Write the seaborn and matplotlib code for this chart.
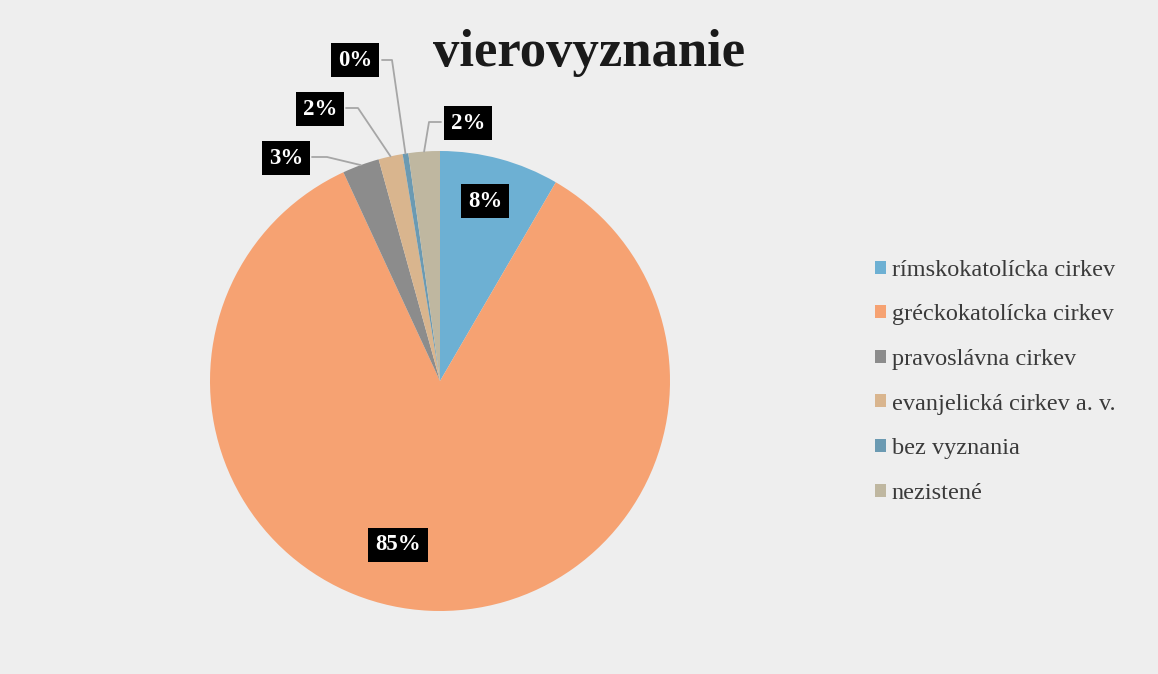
import numpy as np
import matplotlib
matplotlib.use("Agg")
import matplotlib.pyplot as plt
import seaborn as sns

categories = ["rímskokatolícka cirkev", "gréckokatolícka cirkev", "pravoslávna cirkev",
              "evanjelická cirkev a. v.", "bez vyznania", "nezistené"]
values = [8.4, 84.7, 2.6, 1.7, 0.4, 2.2]
labels = ["8%", "85%", "3%", "2%", "0%", "2%"]
colors = ["#6db0d3", "#f6a272", "#8c8c8c", "#d9b58e", "#6b9ab2", "#bfb7a0"]
title = "vierovyznanie"

sns.set_theme(style="white")
plt.rcParams['font.family'] = ['Liberation Serif', 'DejaVu Serif']

W, H = 1158, 674
fig = plt.figure(figsize=(W / 100, H / 100), dpi=100, facecolor="#eeeeee")
cx, cy, R = 440, 381, 230
ax = fig.add_axes([(cx - R) / W, (H - cy - R) / H, 2 * R / W, 2 * R / H])
ax.set_facecolor("none")
wedges, _ = ax.pie(values, colors=colors, startangle=90, counterclock=False,
                   radius=1.0, wedgeprops=dict(linewidth=0))
ax.set_xlim(-1, 1)
ax.set_ylim(-1, 1)
ax.set_aspect("equal")
ax.axis("off")

def px(p):
    return ((p[0] - cx) / R, (cy - p[1]) / R)

box = dict(boxstyle="square,pad=0.3", fc="black", ec="none")
tkw = dict(color="white", fontsize=16.5, fontweight="bold", ha="center", va="center",
           bbox=box, zorder=5)

# label positions (pixels) and leader elbow positions
inside = {0: (485, 201), 1: (398, 545)}
outside = {2: ((286, 158), (312, 157), (327, 157)),
           4: ((355, 60), (382, 60), (392, 60)),
           3: ((320, 109), (346, 108), (358, 108)),
           5: ((468, 123), (441, 122), (429, 122))}

for i, w in enumerate(wedges):
    th = np.deg2rad((w.theta1 + w.theta2) / 2)
    if i in inside:
        x, y = px(inside[i])
        ax.text(x, y, labels[i], **tkw)
    else:
        c, e0, e1 = outside[i]
        x, y = px(c)
        ax.text(x, y, labels[i], **tkw)
        ax_x, ax_y = np.cos(th), np.sin(th)
        a0 = px(e0)
        a1 = px(e1)
        ax.plot([a0[0], a1[0], ax_x], [a0[1], a1[1], ax_y], color="#a6a6a6",
                lw=1.3, clip_on=False, zorder=1)

fig.text(589 / W, 1 - 53 / H, title, fontsize=38, fontweight="bold",
         ha="center", va="center", color="#1a1a1a")

handles = [plt.Rectangle((0, 0), 1, 1, fc=c, ec="none") for c in colors]
fig.legend(handles, categories, loc="upper left", bbox_to_anchor=(853 / W, 1 - 238 / H),
           frameon=False, fontsize=17.5, handlelength=0.45, handleheight=0.45,
           handletextpad=0.25, labelspacing=0.97, labelcolor="#3a3a3a")

fig.savefig("out.png", dpi=100, facecolor=fig.get_facecolor())
